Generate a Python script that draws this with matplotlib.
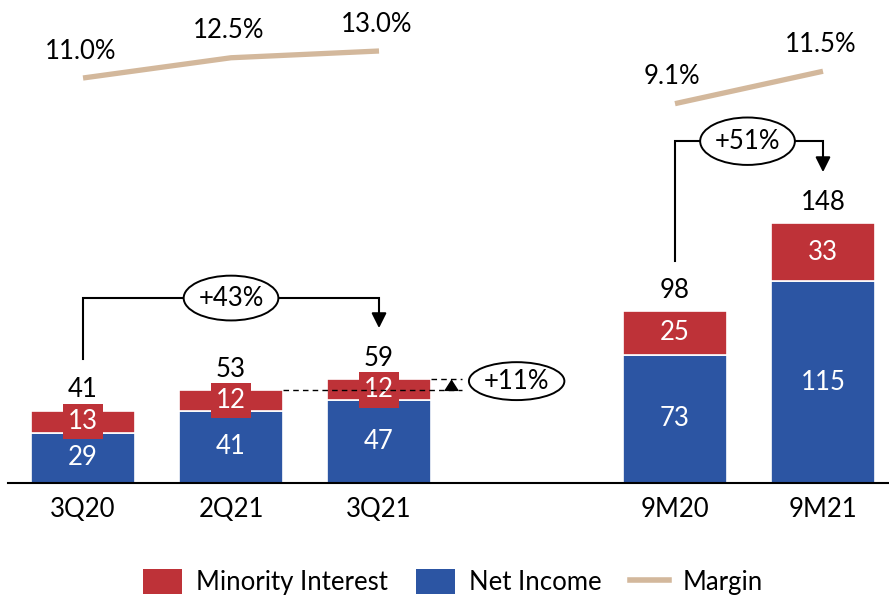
import matplotlib
matplotlib.use("Agg")
import matplotlib.pyplot as plt
from matplotlib.patches import Ellipse, Patch
from matplotlib.lines import Line2D

# ---- data ----
categories = ["3Q20", "2Q21", "3Q21", "9M20", "9M21"]
positions = [0, 1, 2, 4, 5]
net_income = [28.6, 41.0, 47.0, 73.0, 115.0]
minority = [12.6, 12.0, 12.0, 25.0, 33.0]
margin_q_pos = [0, 1, 2]
margin_q = [11.0, 12.5, 13.0]
margin_9m_pos = [4, 5]
margin_9m = [9.1, 11.5]
growth_labels = ["+43%", "+51%", "+11%"]

BLUE = "#2C55A3"
RED = "#BE3238"
BEIGE = "#D3B89C"
FONT = ["Lato", "DejaVu Sans"]
FS = 18.5

plt.rcParams["font.family"] = FONT

fig = plt.figure(figsize=(8.89, 5.97), dpi=100)
ax = fig.add_axes([8 / 889, (597 - 483) / 597, 881 / 889, 483 / 597])
ax.set_xlim(-0.507, 5.446)
ax.set_ylim(0, 275)

totals = [n + m for n, m in zip(net_income, minority)]
w = 0.70
ax.bar(positions, net_income, width=w, color=BLUE, edgecolor="white", linewidth=1.2, zorder=2)
ax.bar(positions, minority, bottom=net_income, width=w, color=RED, edgecolor="white", linewidth=1.2, zorder=2)

for x, n, m, t in zip(positions, net_income, minority, totals):
    ax.text(x, n / 2, f"{n:.0f}", ha="center", va="center", color="white", fontsize=FS, zorder=5)
    ax.text(x, n + m / 2, f"{m:.0f}", ha="center", va="center", color="white", fontsize=FS, zorder=5,
            bbox=dict(boxstyle="square,pad=0.2", facecolor=RED, edgecolor="none"))
    ax.annotate(f"{t:.0f}", (x, t), xytext=(0, 9.5), textcoords="offset points",
                ha="center", va="baseline", fontsize=FS, color="black")

# axis styling
for s in ["top", "right", "left"]:
    ax.spines[s].set_visible(False)
ax.spines["bottom"].set_linewidth(1.5)
ax.set_yticks([])
ax.set_xticks(positions)
ax.set_xticklabels(categories, fontsize=FS)
ax.tick_params(axis="x", length=0, pad=10)

# margin line on twin axis
ax2 = ax.twinx()
ax2.set_ylim(-19.0, 16.778)
ax2.axis("off")
ax2.plot(margin_q_pos, margin_q, color=BEIGE, lw=3.8, solid_capstyle="butt")
ax2.plot(margin_9m_pos, margin_9m, color=BEIGE, lw=3.8, solid_capstyle="butt")
for xs, ms in [(margin_q_pos, margin_q), (margin_9m_pos, margin_9m)]:
    for x, m in zip(xs, ms):
        ax2.annotate(f"{m:.1f}%", (x, m), xytext=(-2, 14.0), textcoords="offset points",
                     ha="center", va="baseline", fontsize=FS)

# growth annotations
def bracket(x0, x1, y0, ytop, y1, ex, ey, ew, eh, label):
    ax.plot([x0, x0, x1, x1], [y0, ytop, ytop, y1 + 8], color="black", lw=1.5, zorder=6,
            solid_joinstyle="miter")
    ax.annotate("", xy=(x1, y1), xytext=(x1, y1 + 9),
                arrowprops=dict(arrowstyle="-|>,head_length=0.9,head_width=0.45",
                                color="black", lw=1.5, shrinkA=0, shrinkB=0), zorder=7)
    ax.add_patch(Ellipse((ex, ey), ew, eh, facecolor="white", edgecolor="black", lw=1.4, zorder=8))
    ax.text(ex, ey, label, ha="center", va="center", fontsize=FS, zorder=9)

bracket(0, 2, 70.5, 105.3, 88.2, 1.0, 105.3, 0.64, 25.5, growth_labels[0])
bracket(4, 5, 126.4, 194.6, 177.0, 4.49, 194.6, 0.64, 27.0, growth_labels[1])

# +11% comparison
ax.plot([1.35, 2.56], [totals[1], totals[1]], color="black", lw=1.0, ls=(0, (4, 3)), zorder=6)
ax.plot([2.35, 2.56], [totals[2], totals[2]], color="black", lw=1.0, ls=(0, (4, 3)), zorder=6)
ax.annotate("", xy=(2.49, totals[2]), xytext=(2.49, totals[1]),
            arrowprops=dict(arrowstyle="-|>,head_length=0.7,head_width=0.45",
                            color="black", lw=1.0, shrinkA=0, shrinkB=0), zorder=7)
ax.add_patch(Ellipse((2.93, 58.0), 0.645, 21.6, facecolor="white", edgecolor="black", lw=1.4, zorder=8))
ax.text(2.93, 58.0, growth_labels[2], ha="center", va="center", fontsize=FS, zorder=9)

# legend
handles = [Patch(facecolor=RED, edgecolor="none"), Patch(facecolor=BLUE, edgecolor="none"),
           Line2D([0], [0], color=BEIGE, lw=4)]
fig.legend(handles, ["Minority Interest", "Net Income", "Margin"], loc="center",
           bbox_to_anchor=(453 / 889, 1 - 582 / 597), ncol=3, frameon=False, fontsize=FS,
           handlelength=1.52, handleheight=1.09, columnspacing=1.1, handletextpad=0.54,
           borderpad=0.0)

fig.savefig("out.png", dpi=100)
